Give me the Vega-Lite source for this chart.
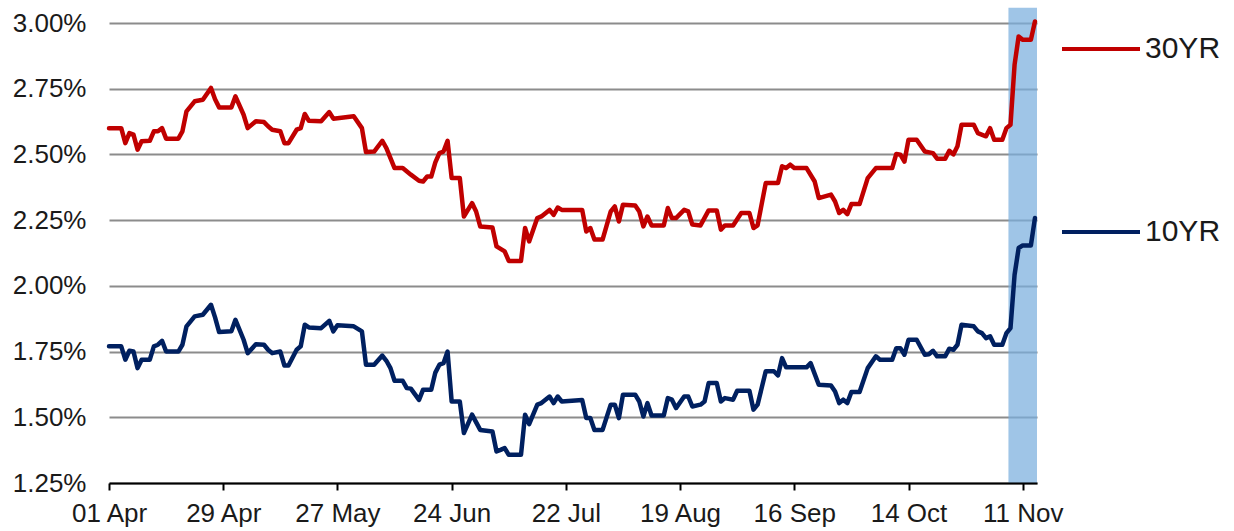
{
  "$schema": "https://vega.github.io/schema/vega-lite/v6.json",
  "width": 928,
  "height": 460,
  "autosize": {"type": "none"},
  "padding": {"left": 109, "top": 23, "right": 197, "bottom": 48},
  "background": "white",
  "config": {
    "view": {"stroke": null},
    "font": "Liberation Sans",
    "axis": {"labelFont": "Liberation Sans", "labelColor": "#1a1a1a"},
    "legend": {"labelFont": "Liberation Sans", "labelColor": "#1a1a1a"}
  },
  "datasets": {
    "band": [{"start": "2016-11-07T12:00:00Z", "end": "2016-11-14T12:00:00Z", "lo": 1.25, "hi": 3.058}],
    "t30": [
      {"date": "2016-04-01", "yield": 2.600}, {"date": "2016-04-04", "yield": 2.600}, {"date": "2016-04-05", "yield": 2.543},
      {"date": "2016-04-06", "yield": 2.581}, {"date": "2016-04-07", "yield": 2.575}, {"date": "2016-04-08", "yield": 2.518},
      {"date": "2016-04-09", "yield": 2.550}, {"date": "2016-04-11", "yield": 2.552}, {"date": "2016-04-12", "yield": 2.588},
      {"date": "2016-04-13", "yield": 2.588}, {"date": "2016-04-14", "yield": 2.600}, {"date": "2016-04-15", "yield": 2.560},
      {"date": "2016-04-18", "yield": 2.560}, {"date": "2016-04-19", "yield": 2.588}, {"date": "2016-04-20", "yield": 2.664},
      {"date": "2016-04-22", "yield": 2.702}, {"date": "2016-04-24", "yield": 2.708}, {"date": "2016-04-26", "yield": 2.753},
      {"date": "2016-04-27", "yield": 2.710}, {"date": "2016-04-28", "yield": 2.679}, {"date": "2016-05-01", "yield": 2.679},
      {"date": "2016-05-02", "yield": 2.721}, {"date": "2016-05-04", "yield": 2.651}, {"date": "2016-05-05", "yield": 2.600},
      {"date": "2016-05-07", "yield": 2.626}, {"date": "2016-05-09", "yield": 2.623}, {"date": "2016-05-10", "yield": 2.607},
      {"date": "2016-05-11", "yield": 2.594}, {"date": "2016-05-13", "yield": 2.588}, {"date": "2016-05-14", "yield": 2.543},
      {"date": "2016-05-15", "yield": 2.543}, {"date": "2016-05-17", "yield": 2.594}, {"date": "2016-05-18", "yield": 2.600},
      {"date": "2016-05-19", "yield": 2.654}, {"date": "2016-05-20", "yield": 2.628}, {"date": "2016-05-23", "yield": 2.626},
      {"date": "2016-05-25", "yield": 2.661}, {"date": "2016-05-26", "yield": 2.636}, {"date": "2016-05-31", "yield": 2.645},
      {"date": "2016-06-02", "yield": 2.600}, {"date": "2016-06-03", "yield": 2.509}, {"date": "2016-06-05", "yield": 2.511},
      {"date": "2016-06-07", "yield": 2.552}, {"date": "2016-06-08", "yield": 2.524}, {"date": "2016-06-10", "yield": 2.448},
      {"date": "2016-06-12", "yield": 2.448}, {"date": "2016-06-14", "yield": 2.423}, {"date": "2016-06-16", "yield": 2.400},
      {"date": "2016-06-17", "yield": 2.397}, {"date": "2016-06-18", "yield": 2.416}, {"date": "2016-06-19", "yield": 2.416},
      {"date": "2016-06-20", "yield": 2.470}, {"date": "2016-06-21", "yield": 2.505}, {"date": "2016-06-22", "yield": 2.511},
      {"date": "2016-06-23", "yield": 2.552}, {"date": "2016-06-24", "yield": 2.410}, {"date": "2016-06-26", "yield": 2.410},
      {"date": "2016-06-27", "yield": 2.264}, {"date": "2016-06-29", "yield": 2.315}, {"date": "2016-06-30", "yield": 2.283},
      {"date": "2016-07-01", "yield": 2.226}, {"date": "2016-07-04", "yield": 2.222}, {"date": "2016-07-05", "yield": 2.150},
      {"date": "2016-07-07", "yield": 2.131}, {"date": "2016-07-08", "yield": 2.095}, {"date": "2016-07-11", "yield": 2.095},
      {"date": "2016-07-12", "yield": 2.220}, {"date": "2016-07-13", "yield": 2.169}, {"date": "2016-07-15", "yield": 2.258},
      {"date": "2016-07-16", "yield": 2.264}, {"date": "2016-07-18", "yield": 2.289}, {"date": "2016-07-19", "yield": 2.270},
      {"date": "2016-07-20", "yield": 2.298}, {"date": "2016-07-21", "yield": 2.289}, {"date": "2016-07-26", "yield": 2.289},
      {"date": "2016-07-27", "yield": 2.207}, {"date": "2016-07-28", "yield": 2.220}, {"date": "2016-07-29", "yield": 2.176},
      {"date": "2016-07-31", "yield": 2.176}, {"date": "2016-08-02", "yield": 2.283}, {"date": "2016-08-03", "yield": 2.302},
      {"date": "2016-08-04", "yield": 2.245}, {"date": "2016-08-05", "yield": 2.309}, {"date": "2016-08-08", "yield": 2.306},
      {"date": "2016-08-09", "yield": 2.283}, {"date": "2016-08-10", "yield": 2.226}, {"date": "2016-08-11", "yield": 2.264},
      {"date": "2016-08-12", "yield": 2.230}, {"date": "2016-08-15", "yield": 2.230}, {"date": "2016-08-16", "yield": 2.296},
      {"date": "2016-08-17", "yield": 2.258}, {"date": "2016-08-18", "yield": 2.258}, {"date": "2016-08-20", "yield": 2.289},
      {"date": "2016-08-21", "yield": 2.283}, {"date": "2016-08-22", "yield": 2.233}, {"date": "2016-08-24", "yield": 2.230},
      {"date": "2016-08-26", "yield": 2.287}, {"date": "2016-08-28", "yield": 2.287}, {"date": "2016-08-29", "yield": 2.214},
      {"date": "2016-08-30", "yield": 2.230}, {"date": "2016-09-01", "yield": 2.230}, {"date": "2016-09-03", "yield": 2.277},
      {"date": "2016-09-05", "yield": 2.277}, {"date": "2016-09-06", "yield": 2.220}, {"date": "2016-09-07", "yield": 2.230},
      {"date": "2016-09-09", "yield": 2.391}, {"date": "2016-09-12", "yield": 2.391}, {"date": "2016-09-13", "yield": 2.455},
      {"date": "2016-09-14", "yield": 2.448}, {"date": "2016-09-15", "yield": 2.461}, {"date": "2016-09-16", "yield": 2.448},
      {"date": "2016-09-19", "yield": 2.448}, {"date": "2016-09-21", "yield": 2.397}, {"date": "2016-09-22", "yield": 2.334},
      {"date": "2016-09-25", "yield": 2.347}, {"date": "2016-09-26", "yield": 2.321}, {"date": "2016-09-27", "yield": 2.277},
      {"date": "2016-09-28", "yield": 2.289}, {"date": "2016-09-29", "yield": 2.273}, {"date": "2016-09-30", "yield": 2.311},
      {"date": "2016-10-02", "yield": 2.311}, {"date": "2016-10-04", "yield": 2.410}, {"date": "2016-10-06", "yield": 2.448},
      {"date": "2016-10-10", "yield": 2.448}, {"date": "2016-10-11", "yield": 2.502}, {"date": "2016-10-12", "yield": 2.499},
      {"date": "2016-10-13", "yield": 2.473}, {"date": "2016-10-14", "yield": 2.556}, {"date": "2016-10-16", "yield": 2.556},
      {"date": "2016-10-18", "yield": 2.511}, {"date": "2016-10-20", "yield": 2.505}, {"date": "2016-10-21", "yield": 2.484},
      {"date": "2016-10-23", "yield": 2.484}, {"date": "2016-10-24", "yield": 2.514}, {"date": "2016-10-25", "yield": 2.500},
      {"date": "2016-10-26", "yield": 2.531}, {"date": "2016-10-27", "yield": 2.613}, {"date": "2016-10-30", "yield": 2.613},
      {"date": "2016-10-31", "yield": 2.581}, {"date": "2016-11-02", "yield": 2.569}, {"date": "2016-11-03", "yield": 2.600},
      {"date": "2016-11-04", "yield": 2.556}, {"date": "2016-11-06", "yield": 2.556}, {"date": "2016-11-07", "yield": 2.600},
      {"date": "2016-11-08", "yield": 2.613}, {"date": "2016-11-09", "yield": 2.841}, {"date": "2016-11-10", "yield": 2.949},
      {"date": "2016-11-11", "yield": 2.936}, {"date": "2016-11-13", "yield": 2.936}, {"date": "2016-11-14", "yield": 3.006}
    ],
    "t10": [
      {"date": "2016-04-01", "yield": 1.770}, {"date": "2016-04-04", "yield": 1.770}, {"date": "2016-04-05", "yield": 1.719},
      {"date": "2016-04-06", "yield": 1.753}, {"date": "2016-04-07", "yield": 1.750}, {"date": "2016-04-08", "yield": 1.687},
      {"date": "2016-04-09", "yield": 1.719}, {"date": "2016-04-11", "yield": 1.719}, {"date": "2016-04-12", "yield": 1.770},
      {"date": "2016-04-13", "yield": 1.776}, {"date": "2016-04-14", "yield": 1.791}, {"date": "2016-04-15", "yield": 1.750},
      {"date": "2016-04-18", "yield": 1.750}, {"date": "2016-04-19", "yield": 1.776}, {"date": "2016-04-20", "yield": 1.846},
      {"date": "2016-04-22", "yield": 1.884}, {"date": "2016-04-24", "yield": 1.890}, {"date": "2016-04-26", "yield": 1.928},
      {"date": "2016-04-27", "yield": 1.880}, {"date": "2016-04-28", "yield": 1.824}, {"date": "2016-05-01", "yield": 1.827},
      {"date": "2016-05-02", "yield": 1.871}, {"date": "2016-05-04", "yield": 1.795}, {"date": "2016-05-05", "yield": 1.744},
      {"date": "2016-05-07", "yield": 1.778}, {"date": "2016-05-09", "yield": 1.776}, {"date": "2016-05-10", "yield": 1.757},
      {"date": "2016-05-11", "yield": 1.744}, {"date": "2016-05-13", "yield": 1.750}, {"date": "2016-05-14", "yield": 1.697},
      {"date": "2016-05-15", "yield": 1.697}, {"date": "2016-05-17", "yield": 1.757}, {"date": "2016-05-18", "yield": 1.770},
      {"date": "2016-05-19", "yield": 1.852}, {"date": "2016-05-20", "yield": 1.842}, {"date": "2016-05-23", "yield": 1.839},
      {"date": "2016-05-25", "yield": 1.867}, {"date": "2016-05-26", "yield": 1.827}, {"date": "2016-05-27", "yield": 1.850},
      {"date": "2016-05-31", "yield": 1.846}, {"date": "2016-06-02", "yield": 1.827}, {"date": "2016-06-03", "yield": 1.700},
      {"date": "2016-06-05", "yield": 1.700}, {"date": "2016-06-07", "yield": 1.735}, {"date": "2016-06-08", "yield": 1.715},
      {"date": "2016-06-09", "yield": 1.687}, {"date": "2016-06-10", "yield": 1.639}, {"date": "2016-06-12", "yield": 1.639},
      {"date": "2016-06-13", "yield": 1.611}, {"date": "2016-06-14", "yield": 1.609}, {"date": "2016-06-16", "yield": 1.566},
      {"date": "2016-06-17", "yield": 1.605}, {"date": "2016-06-19", "yield": 1.605}, {"date": "2016-06-20", "yield": 1.670},
      {"date": "2016-06-21", "yield": 1.700}, {"date": "2016-06-22", "yield": 1.706}, {"date": "2016-06-23", "yield": 1.750},
      {"date": "2016-06-24", "yield": 1.560}, {"date": "2016-06-26", "yield": 1.560}, {"date": "2016-06-27", "yield": 1.440},
      {"date": "2016-06-29", "yield": 1.510}, {"date": "2016-07-01", "yield": 1.452}, {"date": "2016-07-04", "yield": 1.446},
      {"date": "2016-07-05", "yield": 1.370}, {"date": "2016-07-06", "yield": 1.376}, {"date": "2016-07-07", "yield": 1.383},
      {"date": "2016-07-08", "yield": 1.357}, {"date": "2016-07-11", "yield": 1.357}, {"date": "2016-07-12", "yield": 1.510},
      {"date": "2016-07-13", "yield": 1.474}, {"date": "2016-07-15", "yield": 1.548}, {"date": "2016-07-16", "yield": 1.554},
      {"date": "2016-07-18", "yield": 1.579}, {"date": "2016-07-19", "yield": 1.554}, {"date": "2016-07-20", "yield": 1.579},
      {"date": "2016-07-21", "yield": 1.560}, {"date": "2016-07-26", "yield": 1.566}, {"date": "2016-07-27", "yield": 1.497},
      {"date": "2016-07-28", "yield": 1.497}, {"date": "2016-07-29", "yield": 1.452}, {"date": "2016-07-31", "yield": 1.452},
      {"date": "2016-08-02", "yield": 1.548}, {"date": "2016-08-03", "yield": 1.548}, {"date": "2016-08-04", "yield": 1.497},
      {"date": "2016-08-05", "yield": 1.586}, {"date": "2016-08-08", "yield": 1.586}, {"date": "2016-08-09", "yield": 1.560},
      {"date": "2016-08-10", "yield": 1.503}, {"date": "2016-08-11", "yield": 1.554}, {"date": "2016-08-12", "yield": 1.507},
      {"date": "2016-08-15", "yield": 1.507}, {"date": "2016-08-16", "yield": 1.573}, {"date": "2016-08-17", "yield": 1.567},
      {"date": "2016-08-18", "yield": 1.535}, {"date": "2016-08-20", "yield": 1.579}, {"date": "2016-08-21", "yield": 1.579},
      {"date": "2016-08-22", "yield": 1.541}, {"date": "2016-08-24", "yield": 1.548}, {"date": "2016-08-25", "yield": 1.560},
      {"date": "2016-08-26", "yield": 1.630}, {"date": "2016-08-28", "yield": 1.630}, {"date": "2016-08-29", "yield": 1.560},
      {"date": "2016-08-30", "yield": 1.573}, {"date": "2016-09-01", "yield": 1.567}, {"date": "2016-09-02", "yield": 1.601},
      {"date": "2016-09-05", "yield": 1.601}, {"date": "2016-09-06", "yield": 1.529}, {"date": "2016-09-07", "yield": 1.548},
      {"date": "2016-09-09", "yield": 1.675}, {"date": "2016-09-11", "yield": 1.675}, {"date": "2016-09-12", "yield": 1.659},
      {"date": "2016-09-13", "yield": 1.725}, {"date": "2016-09-14", "yield": 1.690}, {"date": "2016-09-19", "yield": 1.690},
      {"date": "2016-09-20", "yield": 1.706}, {"date": "2016-09-22", "yield": 1.624}, {"date": "2016-09-25", "yield": 1.621},
      {"date": "2016-09-26", "yield": 1.598}, {"date": "2016-09-27", "yield": 1.554}, {"date": "2016-09-28", "yield": 1.567},
      {"date": "2016-09-29", "yield": 1.554}, {"date": "2016-09-30", "yield": 1.596}, {"date": "2016-10-02", "yield": 1.596},
      {"date": "2016-10-04", "yield": 1.687}, {"date": "2016-10-06", "yield": 1.732}, {"date": "2016-10-07", "yield": 1.719},
      {"date": "2016-10-10", "yield": 1.719}, {"date": "2016-10-11", "yield": 1.763}, {"date": "2016-10-12", "yield": 1.763},
      {"date": "2016-10-13", "yield": 1.738}, {"date": "2016-10-14", "yield": 1.795}, {"date": "2016-10-16", "yield": 1.795},
      {"date": "2016-10-18", "yield": 1.738}, {"date": "2016-10-19", "yield": 1.740}, {"date": "2016-10-20", "yield": 1.753},
      {"date": "2016-10-21", "yield": 1.732}, {"date": "2016-10-23", "yield": 1.732}, {"date": "2016-10-24", "yield": 1.761},
      {"date": "2016-10-25", "yield": 1.757}, {"date": "2016-10-26", "yield": 1.776}, {"date": "2016-10-27", "yield": 1.852},
      {"date": "2016-10-30", "yield": 1.846}, {"date": "2016-10-31", "yield": 1.827}, {"date": "2016-11-01", "yield": 1.820},
      {"date": "2016-11-02", "yield": 1.801}, {"date": "2016-11-03", "yield": 1.808}, {"date": "2016-11-04", "yield": 1.776},
      {"date": "2016-11-06", "yield": 1.776}, {"date": "2016-11-07", "yield": 1.820}, {"date": "2016-11-08", "yield": 1.839},
      {"date": "2016-11-09", "yield": 2.042}, {"date": "2016-11-10", "yield": 2.144}, {"date": "2016-11-11", "yield": 2.154},
      {"date": "2016-11-13", "yield": 2.154}, {"date": "2016-11-14", "yield": 2.258}
    ]
  },
  "encoding": {
    "x": {
      "type": "temporal",
      "scale": {
        "type": "utc",
        "domain": [
          {"year": 2016, "month": 4, "date": 1, "utc": true},
          {"year": 2016, "month": 11, "date": 14, "hours": 12, "utc": true}
        ]
      },
      "axis": {
        "title": null,
        "labelExpr": "utcFormat(datum.value, '%d %b')",
        "values": [
          {"year": 2016, "month": 4, "date": 1, "utc": true},
          {"year": 2016, "month": 4, "date": 29, "utc": true},
          {"year": 2016, "month": 5, "date": 27, "utc": true},
          {"year": 2016, "month": 6, "date": 24, "utc": true},
          {"year": 2016, "month": 7, "date": 22, "utc": true},
          {"year": 2016, "month": 8, "date": 19, "utc": true},
          {"year": 2016, "month": 9, "date": 16, "utc": true},
          {"year": 2016, "month": 10, "date": 14, "utc": true},
          {"year": 2016, "month": 11, "date": 11, "utc": true}
        ],
        "grid": false,
        "domainColor": "#000000",
        "domainWidth": 2,
        "tickColor": "#000000",
        "tickWidth": 2,
        "tickSize": 7,
        "labelFontSize": 26,
        "labelPadding": 10,
        "labelFlush": false,
        "labelOverlap": false,
        "zindex": 1
      }
    },
    "y": {
      "type": "quantitative",
      "scale": {"domain": [1.25, 3.0], "nice": false, "zero": false},
      "axis": {
        "title": null,
        "values": [1.25, 1.5, 1.75, 2.0, 2.25, 2.5, 2.75, 3.0],
        "labelExpr": "format(datum.value, '.2f') + '%'",
        "grid": true,
        "gridColor": "#8c8c8c",
        "gridWidth": 2,
        "domain": false,
        "ticks": false,
        "labelFontSize": 26,
        "labelPadding": 23
      }
    }
  },
  "layer": [
    {
      "data": {"name": "band"},
      "mark": {"type": "rect", "color": "#7aaede", "opacity": 0.72},
      "encoding": {
        "x": {"field": "start", "type": "temporal"},
        "x2": {"field": "end"},
        "y": {"field": "lo", "type": "quantitative"},
        "y2": {"field": "hi"}
      }
    },
    {
      "data": {"name": "t30"},
      "mark": {"type": "line", "strokeWidth": 4.5, "strokeJoin": "round", "strokeCap": "round"},
      "encoding": {
        "x": {"field": "date", "type": "temporal"},
        "y": {"field": "yield", "type": "quantitative"},
        "color": {
          "datum": "30YR",
          "type": "nominal",
          "scale": {"domain": ["30YR", "10YR"], "range": ["#c00000", "#002060"]},
          "legend": {
            "title": null,
            "orient": "none",
            "legendX": 951,
            "legendY": -15,
            "symbolType": "stroke",
            "symbolSize": 6084,
            "symbolStrokeWidth": 4,
            "labelFontSize": 30,
            "labelOffset": 3,
            "rowPadding": 127,
            "padding": 0
          }
        }
      }
    },
    {
      "data": {"name": "t10"},
      "mark": {"type": "line", "strokeWidth": 4.5, "strokeJoin": "round", "strokeCap": "round"},
      "encoding": {
        "x": {"field": "date", "type": "temporal"},
        "y": {"field": "yield", "type": "quantitative"},
        "color": {"datum": "10YR", "type": "nominal"}
      }
    }
  ]
}
